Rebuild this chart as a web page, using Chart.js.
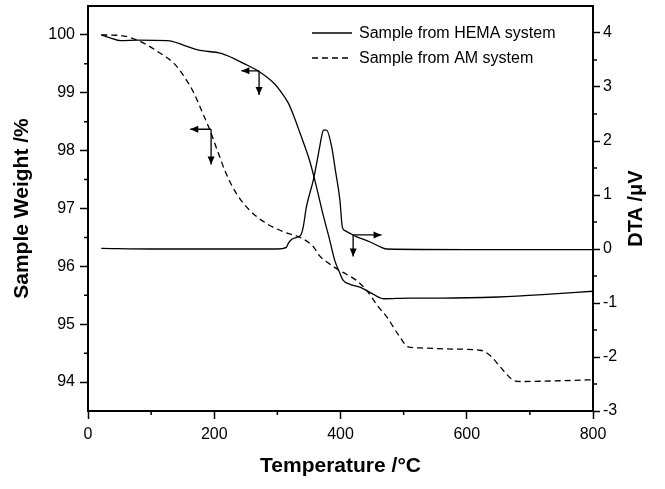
<!DOCTYPE html>
<html>
<head>
<meta charset="utf-8">
<script src="https://cdn.jsdelivr.net/npm/chart.js@4.4.1/dist/chart.umd.min.js"></script>
<style>
  html, body { margin: 0; padding: 0; background: #fff; }
</style>
</head>
<body>
<canvas id="tga" width="665" height="489"></canvas>
<script>
// TG curves (left axis, %) and DTA curve (right axis, uV)
const hemaT = [21, 35, 52, 79, 126, 150, 174, 211, 248, 269, 295, 304, 317, 326, 336, 351, 362, 372, 383, 391, 399, 404, 415, 431, 450, 468, 510, 560, 650, 720, 800];
const hemaW = [100.0, 99.95, 99.9, 99.91, 99.9, 99.83, 99.74, 99.68, 99.5, 99.38, 99.16, 99.04, 98.83, 98.6, 98.30, 97.83, 97.37, 96.91, 96.45, 96.10, 95.88, 95.76, 95.69, 95.64, 95.53, 95.44, 95.45, 95.45, 95.47, 95.51, 95.57];

const amT = [21, 52, 84, 115, 137, 153, 168, 182, 193, 203, 219, 235, 256, 283, 309, 336, 357, 367, 378, 394, 410, 425, 441, 460, 473, 494, 507, 526, 580, 621, 637, 658, 674, 685, 740, 800];
const amW = [100.0, 99.99, 99.88, 99.68, 99.5, 99.27, 98.99, 98.64, 98.36, 98.06, 97.60, 97.26, 96.97, 96.74, 96.60, 96.50, 96.34, 96.18, 96.08, 95.96, 95.86, 95.76, 95.59, 95.30, 95.13, 94.78, 94.61, 94.59, 94.57, 94.55, 94.46, 94.20, 94.03, 94.01, 94.02, 94.04];

const dtaT = [21, 100, 200, 300, 314, 318, 323, 334, 338, 341, 346, 357, 367, 370, 373, 378, 386, 392, 399, 403, 407, 415, 425, 447, 465, 473, 600, 800];
const dtaV = [0.01, 0.0, 0.0, 0.0, 0.03, 0.12, 0.18, 0.23, 0.28, 0.41, 0.78, 1.28, 1.89, 2.08, 2.2, 2.2, 1.89, 1.45, 0.91, 0.40, 0.34, 0.29, 0.23, 0.13, 0.03, 0.0, -0.01, -0.01];

const xTicks = [0, 200, 400, 600, 800];
const xMinor = [100, 300, 500, 700];
const wTicks = [94, 95, 96, 97, 98, 99, 100];
const wMinor = [94.5, 95.5, 96.5, 97.5, 98.5, 99.5];
const dtaTicks = [-3, -2, -1, 0, 1, 2, 3, 4];
const dtaMinor = [-2.5, -1.5, -0.5, 0.5, 1.5, 2.5, 3.5];

const legendLabels = ['Sample from HEMA system', 'Sample from AM system'];

// arrows: [corner x, corner y, horizontal tip x, vertical tip y, axis]
const arrows = [
    [271, 99.38, 243, 98.96, 'y'],
    [195, 98.37, 162, 97.76, 'y'],
    [420, 0.26, 465, -0.14, 'y2']
];

function pts(xs, ys) {
    return xs.map((x, i) => ({ x: x, y: ys[i] }));
}

Chart.defaults.font.family = '"Liberation Sans", Arial, sans-serif';
Chart.defaults.color = '#000';

function arrowHead(ctx, x1, y1, x2, y2) {
    const a = Math.atan2(y2 - y1, x2 - x1);
    const len = 8, half = 3.5;
    ctx.beginPath();
    ctx.moveTo(x2, y2);
    ctx.lineTo(x2 - len * Math.cos(a) + half * Math.sin(a), y2 - len * Math.sin(a) - half * Math.cos(a));
    ctx.lineTo(x2 - len * Math.cos(a) - half * Math.sin(a), y2 - len * Math.sin(a) + half * Math.cos(a));
    ctx.closePath();
    ctx.fill();
}

// no extra room for the end labels, the frame runs edge to edge
function noPad(s) {
    s.paddingTop = 0;
    s.paddingBottom = 0;
    s.paddingLeft = 0;
    s.paddingRight = 0;
}

const decorations = {
    id: 'decorations',
    afterDraw(chart) {
        const ctx = chart.ctx;
        const area = chart.chartArea;
        const sx = chart.scales.x, sy = chart.scales.y, sy2 = chart.scales.y2;
        ctx.save();
        ctx.strokeStyle = '#000';
        ctx.fillStyle = '#000';

        // top frame line
        ctx.lineWidth = 2;
        ctx.beginPath();
        ctx.moveTo(area.left - 1, area.top);
        ctx.lineTo(area.right + 1, area.top);
        ctx.stroke();

        // minor ticks
        ctx.lineWidth = 1.5;
        ctx.beginPath();
        xMinor.forEach(v => {
            const px = sx.getPixelForValue(v);
            ctx.moveTo(px, area.bottom);
            ctx.lineTo(px, area.bottom + 4);
        });
        wMinor.forEach(v => {
            const py = sy.getPixelForValue(v);
            ctx.moveTo(area.left - 4, py);
            ctx.lineTo(area.left, py);
        });
        dtaMinor.forEach(v => {
            const py = sy2.getPixelForValue(v);
            ctx.moveTo(area.right, py);
            ctx.lineTo(area.right + 4, py);
        });
        ctx.stroke();

        // arrows
        ctx.lineWidth = 1.3;
        arrows.forEach(a => {
            const ys = chart.scales[a[4]];
            const cx = sx.getPixelForValue(a[0]);
            const cy = ys.getPixelForValue(a[1]);
            const hx = sx.getPixelForValue(a[2]);
            const vy = ys.getPixelForValue(a[3]);
            ctx.beginPath();
            ctx.moveTo(cx, cy);
            ctx.lineTo(hx, cy);
            ctx.moveTo(cx, cy);
            ctx.lineTo(cx, vy);
            ctx.stroke();
            arrowHead(ctx, cx, cy, hx, cy);
            arrowHead(ctx, cx, cy, cx, vy);
        });

        // legend
        ctx.font = '16px "Liberation Sans", Arial, sans-serif';
        ctx.textBaseline = 'middle';
        ctx.textAlign = 'left';
        const lx = area.left + 224;
        legendLabels.forEach((t, i) => {
            const ly = area.top + 27 + i * 25;
            ctx.lineWidth = 1.3;
            ctx.setLineDash(i === 0 ? [] : [6, 4]);
            ctx.beginPath();
            ctx.moveTo(lx, ly);
            ctx.lineTo(lx + 40, ly);
            ctx.stroke();
            ctx.setLineDash([]);
            ctx.fillText(t, lx + 47, ly + 1);
        });

        // right axis title, reading bottom to top
        ctx.font = 'bold 20px "Liberation Sans", Arial, sans-serif';
        ctx.textAlign = 'center';
        ctx.translate(636, (area.top + area.bottom) / 2);
        ctx.rotate(-Math.PI / 2);
        ctx.fillText('DTA /\u03BCV', 0, 0);
        ctx.restore();
    }
};

new Chart(document.getElementById('tga'), {
    type: 'line',
    data: {
        datasets: [{
            label: 'DTA',
            data: pts(dtaT, dtaV),
            yAxisID: 'y2',
            borderColor: '#000',
            borderWidth: 1.3
        }, {
            label: legendLabels[0],
            data: pts(hemaT, hemaW),
            yAxisID: 'y',
            borderColor: '#000',
            borderWidth: 1.3
        }, {
            label: legendLabels[1],
            data: pts(amT, amW),
            yAxisID: 'y',
            borderColor: '#000',
            borderWidth: 1.3,
            borderDash: [6, 4]
        }]
    },
    options: {
        responsive: false,
        animation: false,
        layout: { padding: { top: 6, left: 0, right: 0, bottom: 0 } },
        elements: {
            point: { radius: 0 },
            line: { cubicInterpolationMode: 'monotone', fill: false }
        },
        plugins: {
            legend: { display: false },
            tooltip: { enabled: false }
        },
        scales: {
            x: {
                type: 'linear',
                position: 'bottom',
                min: 0,
                max: 800,
                afterFit: s => { s.height = 78; noPad(s); },
                afterBuildTicks: s => { s.ticks = xTicks.map(v => ({ value: v })); },
                grid: { drawOnChartArea: false, color: '#000', tickLength: 8, tickWidth: 1.5 },
                border: { color: '#000', width: 2 },
                ticks: { font: { size: 16 }, padding: 6, maxRotation: 0 },
                title: {
                    display: true,
                    text: 'Temperature /°C',
                    font: { size: 21, weight: 'bold' },
                    padding: { top: 0, bottom: 10 }
                }
            },
            y: {
                type: 'linear',
                position: 'left',
                min: 93.5,
                max: 100.5,
                afterFit: s => { s.width = 88; noPad(s); },
                afterBuildTicks: s => { s.ticks = wTicks.map(v => ({ value: v })); },
                grid: { drawOnChartArea: false, color: '#000', tickLength: 8, tickWidth: 1.5 },
                border: { color: '#000', width: 2 },
                ticks: { font: { size: 16 }, padding: 5 },
                title: {
                    display: true,
                    text: 'Sample Weight /%',
                    font: { size: 21, weight: 'bold' },
                    padding: { top: 10, bottom: 0 }
                }
            },
            y2: {
                type: 'linear',
                position: 'right',
                min: -3,
                max: 4.5,
                afterFit: s => { s.width = 72; noPad(s); },
                afterBuildTicks: s => { s.ticks = dtaTicks.map(v => ({ value: v })); },
                grid: { drawOnChartArea: false, color: '#000', tickLength: 7, tickWidth: 1.5 },
                border: { color: '#000', width: 2 },
                ticks: { font: { size: 16 }, padding: 3 }
            }
        }
    },
    plugins: [decorations]
});
</script>
</body>
</html>
